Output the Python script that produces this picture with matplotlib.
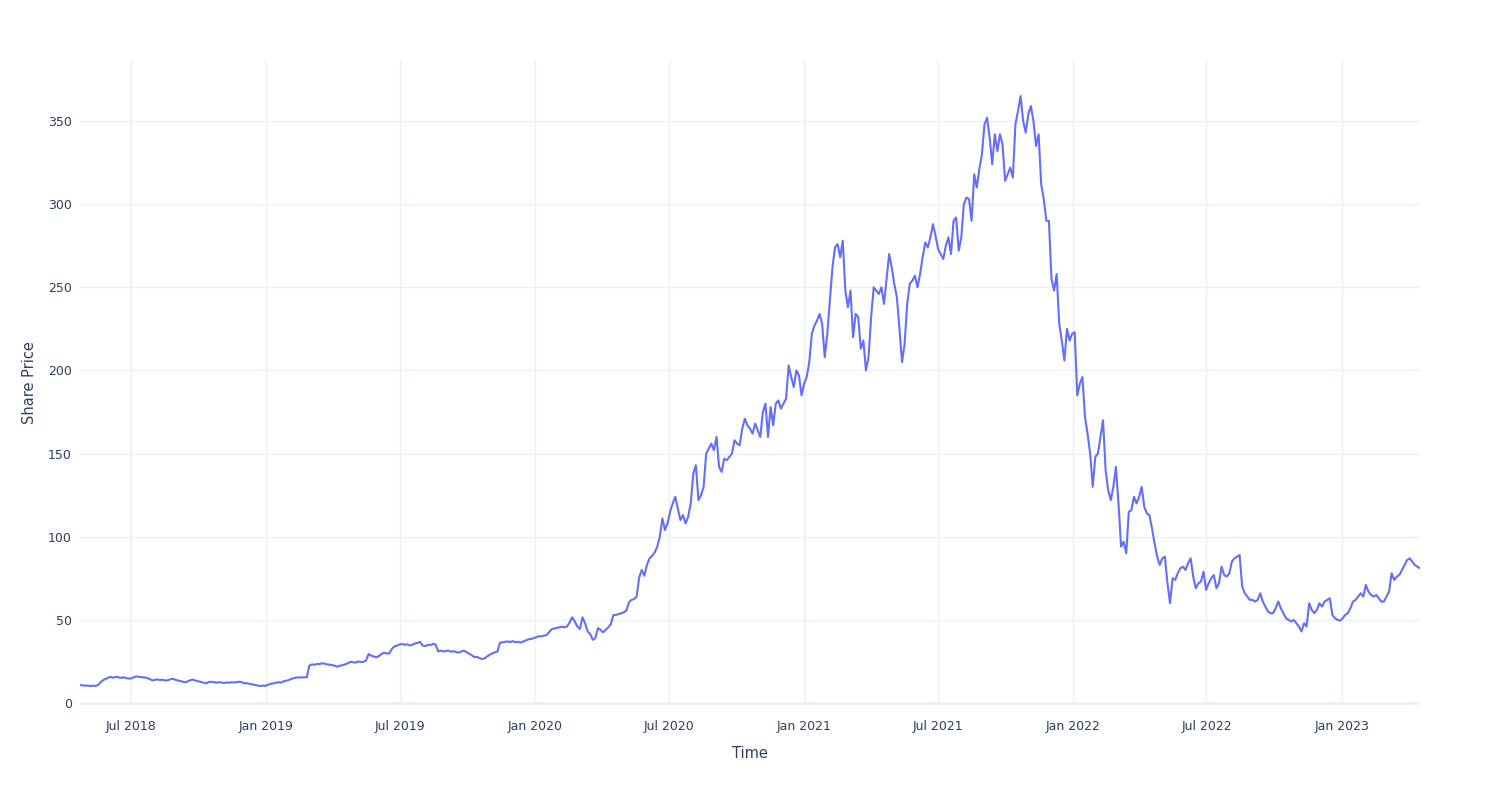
import matplotlib
matplotlib.use("Agg")
import matplotlib.pyplot as plt
import matplotlib.dates as mdates
import numpy as np
import pandas as pd

# share price, one value every 3.5 days from 2018-04-23
price = [
    10.8, 10.6, 10.4, 10.5, 10.2, 10.4, 10.3, 10.8, 12.5, 13.8,
    14.5, 15.3, 15.6, 15.2, 15.8, 15.4, 15.1, 15.5, 14.9, 14.7,
    14.8, 15.6, 16.0, 15.7, 15.5, 15.4, 15.0, 14.5, 13.6, 13.9,
    14.2, 13.8, 14.0, 13.5, 13.7, 14.2, 14.6, 14.0, 13.5, 13.2,
    12.8, 12.4, 13.2, 13.8, 14.0, 13.4, 13.0, 12.6, 12.2, 11.8,
    12.6, 12.8, 12.5, 12.2, 12.5, 12.3, 12.0, 12.4, 12.2, 12.5,
    12.3, 12.6, 12.8, 12.4, 11.8, 11.9, 11.4, 11.2, 10.8, 10.5,
    10.2, 10.5, 10.3, 11.0, 11.5, 11.8, 12.2, 12.5, 12.2, 13.0,
    13.4, 13.8, 14.5, 15.0, 15.3, 15.4, 15.3, 15.5, 15.4, 22.5,
    23.2, 23.0, 23.5, 23.4, 23.9, 23.6, 23.2, 23.0, 22.8, 22.3,
    21.8, 22.5, 22.8, 23.3, 24.0, 24.8, 24.5, 24.3, 25.0, 24.6,
    24.8, 25.5, 29.5, 28.5, 28.0, 27.5, 28.2, 29.5, 30.3, 29.8,
    29.7, 32.5, 34.0, 34.5, 35.2, 35.5, 35.0, 35.3, 34.6, 35.0,
    35.8, 36.2, 36.8, 34.5, 34.2, 35.0, 34.8, 35.6, 35.2, 31.0,
    31.5, 31.0, 31.3, 31.5, 30.8, 31.2, 30.6, 30.3, 31.0, 31.5,
    30.5, 29.7, 28.8, 27.6, 27.8, 27.0, 26.5, 26.8, 28.0, 29.0,
    29.8, 30.5, 31.0, 36.3, 36.5, 36.8, 37.0, 36.7, 37.2, 36.5,
    36.8, 36.3, 37.0, 37.6, 38.3, 38.5, 39.0, 39.5, 40.2, 40.0,
    40.5, 40.8, 42.5, 44.3, 44.8, 45.2, 45.5, 45.9, 45.5, 46.0,
    48.5, 51.5, 49.0, 46.0, 44.5, 51.5, 48.0, 43.0, 41.5, 38.0,
    39.0, 45.0, 44.0, 42.5, 44.0, 45.5, 47.5, 52.9, 53.0, 53.5,
    53.9, 54.5, 55.5, 60.5, 62.0, 62.5, 64.0, 75.5, 80.0, 76.5,
    83.0, 87.0, 88.5, 90.5, 94.0, 100, 111, 104, 108, 115,
    120, 124, 117, 110, 113, 108, 112, 120, 138, 143,
    122, 125, 130, 150, 153, 156, 152, 160, 142, 139,
    147, 146, 148, 150, 158, 156, 155, 165, 171, 167,
    165, 162, 168, 164, 160, 175, 180, 160, 178, 167,
    180, 182, 177, 180, 183, 203, 196, 190, 200, 197,
    185, 192, 196, 205, 222, 227, 230, 234, 228, 208,
    222, 242, 262, 274, 276, 268, 278, 248, 238, 248,
    220, 234, 232, 213, 218, 200, 208, 232, 250, 248,
    246, 250, 240, 255, 270, 262, 252, 244, 225, 205,
    216, 240, 252, 254, 257, 250, 258, 268, 277, 274,
    280, 288, 281, 273, 270, 267, 275, 280, 270, 290,
    292, 272, 280, 300, 304, 303, 290, 318, 310, 321,
    330, 348, 352, 340, 324, 342, 332, 342, 336, 314,
    318, 322, 316, 348, 356, 365, 350, 343, 354, 359,
    350, 335, 342, 312, 303, 290, 290, 255, 248, 258,
    228, 218, 206, 225, 218, 222, 223, 185, 192, 196,
    172, 162, 150, 130, 148, 150, 160, 170, 140, 128,
    122, 130, 142, 120, 94, 97, 90, 115, 116, 124,
    120, 124, 130, 118, 114, 113, 105, 96, 88, 83,
    87, 88, 72, 60, 75, 74, 78, 81, 82, 80,
    84, 87, 76, 69, 72, 73, 79, 68, 72, 75,
    77, 69, 72, 82, 77, 76, 78, 85, 87, 88,
    89, 70, 66, 64, 62, 62, 61, 62, 66, 61,
    58, 55, 54, 54, 57, 61, 57, 54, 51, 50,
    49, 50, 48, 46, 43, 48, 46, 60, 56, 54,
    56, 60, 58, 61, 62, 63, 53, 51, 50, 49.5,
    51, 53, 54, 57, 61, 62, 64, 66, 64, 71,
    67, 65, 64, 65, 63, 61, 61, 64, 67, 78,
    74, 76, 77, 80, 83, 86, 87, 85, 83, 82,
    81,
]
dates = pd.date_range("2018-04-23", periods=len(price), freq="84h")
y_ticks = [0, 50, 100, 150, 200, 250, 300, 350]

grid = "#EBF0F8"
text = "#2a3f5f"

fig = plt.figure(figsize=(15, 8), dpi=100)
ax = fig.add_axes([80 / 1500, 95 / 800, 1340 / 1500, 645 / 800])

ax.plot(dates, price, color="#636EFA", linewidth=1.5, zorder=3)

ax.set_xlim(dates[0], dates[-1])
ax.set_ylim(-1.2, 386.7)
ax.set_yticks(y_ticks)
ax.xaxis.set_major_locator(mdates.MonthLocator(bymonth=[1, 7]))
ax.xaxis.set_major_formatter(mdates.DateFormatter("%b %Y"))

ax.grid(True, color=grid, linewidth=1)
ax.axhline(0, color=grid, linewidth=2, zorder=1)
for s in ax.spines.values():
    s.set_visible(False)
ax.tick_params(axis="both", length=0, labelsize=9, labelcolor=text)
ax.tick_params(axis="x", pad=11)
ax.tick_params(axis="y", pad=6)

ax.set_xlabel("Time", fontsize=10.5, color=text, labelpad=9)
ax.set_ylabel("Share Price", fontsize=10.5, color=text, labelpad=8)

fig.savefig("out.png", dpi=100, facecolor="white")
